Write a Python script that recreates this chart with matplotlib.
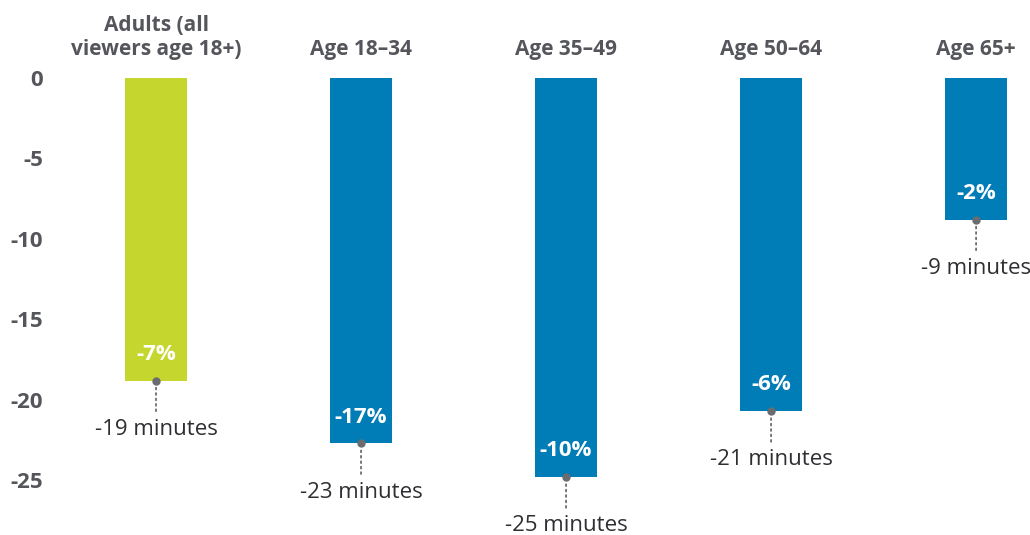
import matplotlib.pyplot as plt
from matplotlib.transforms import offset_copy

categories = ["Adults (all\nviewers age 18+)", "Age 18\u201334", "Age 35\u201349", "Age 50\u201364", "Age 65+"]
minutes = [-18.8, -22.7, -24.8, -20.7, -8.8]
minute_labels = ["-19 minutes", "-23 minutes", "-25 minutes", "-21 minutes", "-9 minutes"]
pct_labels = ["-7%", "-17%", "-10%", "-6%", "-2%"]
yticks = [0, -5, -10, -15, -20, -25]

green = "#c5d62e"
blue = "#007cb6"
gray = "#55565b"
dark = "#2f2f33"

plt.rcParams['font.family'] = ['Open Sans', 'DejaVu Sans']

fig = plt.figure(figsize=(10.30, 5.35), dpi=100)
ax = fig.add_axes([0, 0, 1, 1])

x = list(range(len(categories)))
colors = [green] + [blue] * (len(categories) - 1)
ax.bar(x, minutes, width=0.3, color=colors, zorder=2)

ax.set_xlim(-0.761, 4.263)
ax.set_ylim(-28.39, 4.84)

ax.set_yticks(yticks)
ax.set_yticklabels([str(t) for t in yticks])
ax.tick_params(axis='y', length=0, pad=-31, labelsize=16, labelcolor=gray)
for lab in ax.get_yticklabels():
    lab.set_fontweight('bold')
ax.set_xticks([])
for s in ax.spines.values():
    s.set_visible(False)

for i, (v, m, p) in enumerate(zip(minutes, minute_labels, pct_labels)):
    # category header above bar
    ax.annotate(categories[i], (i, 0), xytext=(0, 13), textcoords='offset points',
                ha='center', va='bottom', fontsize=15, fontweight='bold',
                color=gray, linespacing=1.15)
    # percent label inside bar bottom
    ax.annotate(p, (i, v), xytext=(0, 19), textcoords='offset points',
                ha='center', va='center', fontsize=16, fontweight='bold', color='white')
    # dot + dotted leader
    ax.plot([i], [v], 'o', color='#6b6c70', markersize=5, zorder=3)
    tr = offset_copy(ax.transData, fig=fig, x=0, y=-22, units='points')
    ax.annotate("", (i, v), xytext=(i, v), textcoords=tr,
                arrowprops=dict(arrowstyle='-', linestyle=(0, (1, 2)), color='#6b6c70',
                                lw=1.3, shrinkA=0, shrinkB=3))
    ax.annotate(m, (i, v), xytext=(0, -35), textcoords='offset points',
                ha='center', va='center', fontsize=16, color=dark)

fig.savefig("out.png", dpi=100)
